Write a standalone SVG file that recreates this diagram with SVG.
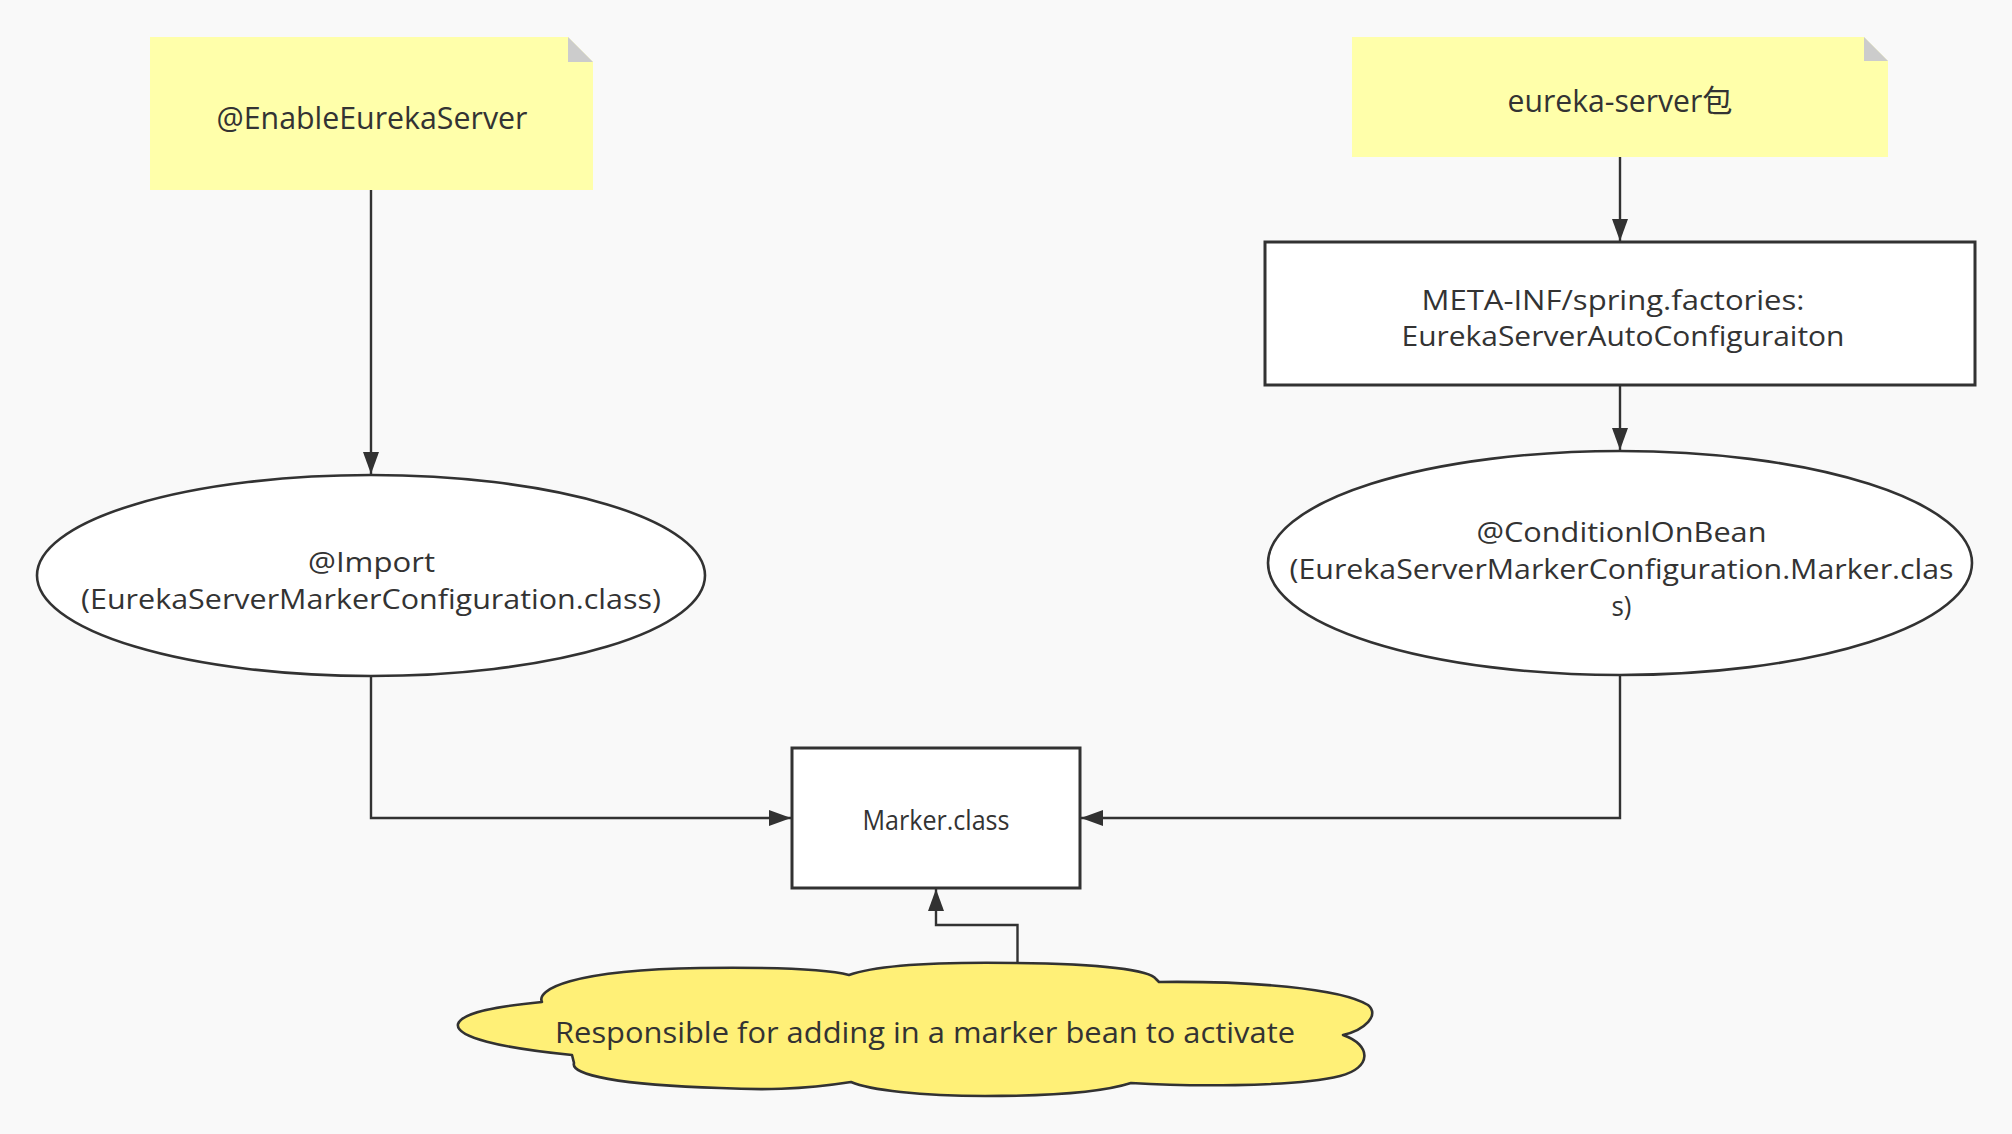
<svg xmlns="http://www.w3.org/2000/svg" width="2012" height="1134" viewBox="0 0 2012 1134">
  <defs>
    <style>
      .bg { fill: #f9f9f9; }
      .note { fill: #ffffaa; }
      .fold { fill: #cccccc; }
      .shape { fill: #ffffff; stroke: #323232; stroke-width: 2.6; }
      .cloud { fill: #fff077; stroke: #323232; stroke-width: 2.6; stroke-linejoin: round; }
      .conn { fill: none; stroke: #323232; stroke-width: 2.4; }
      text { font-family: "Open Sans", "Noto Sans CJK SC", sans-serif; fill: #333333; text-anchor: middle; }
      .t31 { font-size: 31px; }
      .t27 { font-size: 27px; }
      .t29 { font-size: 29px; }
    </style>
    <marker id="arrow" markerUnits="userSpaceOnUse" markerWidth="24" markerHeight="18" refX="22" refY="8" orient="auto">
      <path d="M0,0 L22,8 L0,16 z" fill="#323232"/>
    </marker>
  </defs>

  <rect class="bg" x="0" y="0" width="2012" height="1134"/>

  <g id="connectors">
    <path class="conn" d="M371,190 V474" marker-end="url(#arrow)"/>
    <path class="conn" d="M1620,157 V241" marker-end="url(#arrow)"/>
    <path class="conn" d="M1620,385 V450" marker-end="url(#arrow)"/>
    <path class="conn" d="M371,676 V818 H791" marker-end="url(#arrow)"/>
    <path class="conn" d="M1620,675 V818 H1081" marker-end="url(#arrow)"/>
    <path class="conn" d="M1017.5,963 V925 H936 V889" marker-end="url(#arrow)"/>
  </g>

  <g id="note-enable">
    <polygon class="note" points="150,37 568,37 593,62 593,190 150,190"/>
    <polygon class="fold" points="568,37 568,62 593,62"/>
    <text class="t31" x="372" y="129" textLength="311" lengthAdjust="spacingAndGlyphs">@EnableEurekaServer</text>
  </g>

  <g id="note-eureka-server">
    <polygon class="note" points="1352,37 1864,37 1888,61 1888,157 1352,157"/>
    <polygon class="fold" points="1864,37 1864,61 1888,61"/>
    <text class="t31" x="1620" y="112" textLength="225" lengthAdjust="spacingAndGlyphs">eureka-server包</text>
  </g>

  <g id="spring-factories">
    <rect class="shape" x="1265" y="242" width="710" height="143" style="stroke-width:3"/>
    <text class="t27" x="1613" y="310" textLength="383" lengthAdjust="spacingAndGlyphs">META-INF/spring.factories:</text>
    <text class="t27" x="1623" y="346" textLength="443" lengthAdjust="spacingAndGlyphs">EurekaServerAutoConfiguraiton</text>
  </g>

  <g id="import">
    <ellipse class="shape" cx="371" cy="575.5" rx="334" ry="100.5"/>
    <text class="t27" x="371.5" y="572" textLength="127" lengthAdjust="spacingAndGlyphs">@Import</text>
    <text class="t27" x="371" y="609" textLength="580" lengthAdjust="spacingAndGlyphs">(EurekaServerMarkerConfiguration.class)</text>
  </g>

  <g id="conditional">
    <ellipse class="shape" cx="1620" cy="563" rx="352" ry="112"/>
    <text class="t27" x="1621.5" y="542" textLength="290" lengthAdjust="spacingAndGlyphs">@ConditionlOnBean</text>
    <text class="t27" x="1621.5" y="579" textLength="664" lengthAdjust="spacingAndGlyphs">(EurekaServerMarkerConfiguration.Marker.clas</text>
    <text class="t27" x="1621.5" y="616" textLength="20" lengthAdjust="spacingAndGlyphs">s)</text>
  </g>

  <g id="marker">
    <rect class="shape" x="792" y="748" width="288" height="140" style="stroke-width:3"/>
    <text class="t27" x="936" y="830" textLength="147" lengthAdjust="spacingAndGlyphs">Marker.class</text>
  </g>

  <g id="cloud-note">
    <path class="cloud" d="M542,1002 C536,990 570,970 700,968 C780,967 830,970 849,975 C880,964 950,962 1016,963 C1100,964 1150,970 1156,979 L1159,982 C1250,981 1340,988 1368,1005 C1380,1015 1365,1030 1343,1035 C1372,1045 1372,1068 1340,1076 C1290,1088 1180,1086 1131,1083 C1100,1093 1050,1096 985,1096 C920,1096 870,1090 851,1082 C800,1090 760,1090 720,1088 C620,1085 570,1075 574,1063 L572,1055 C500,1048 455,1037 458,1024 C462,1012 500,1006 542,1002 Z"/>
    <text class="t29" x="925" y="1043" textLength="740" lengthAdjust="spacingAndGlyphs">Responsible for adding in a marker bean to activate</text>
  </g>
</svg>
